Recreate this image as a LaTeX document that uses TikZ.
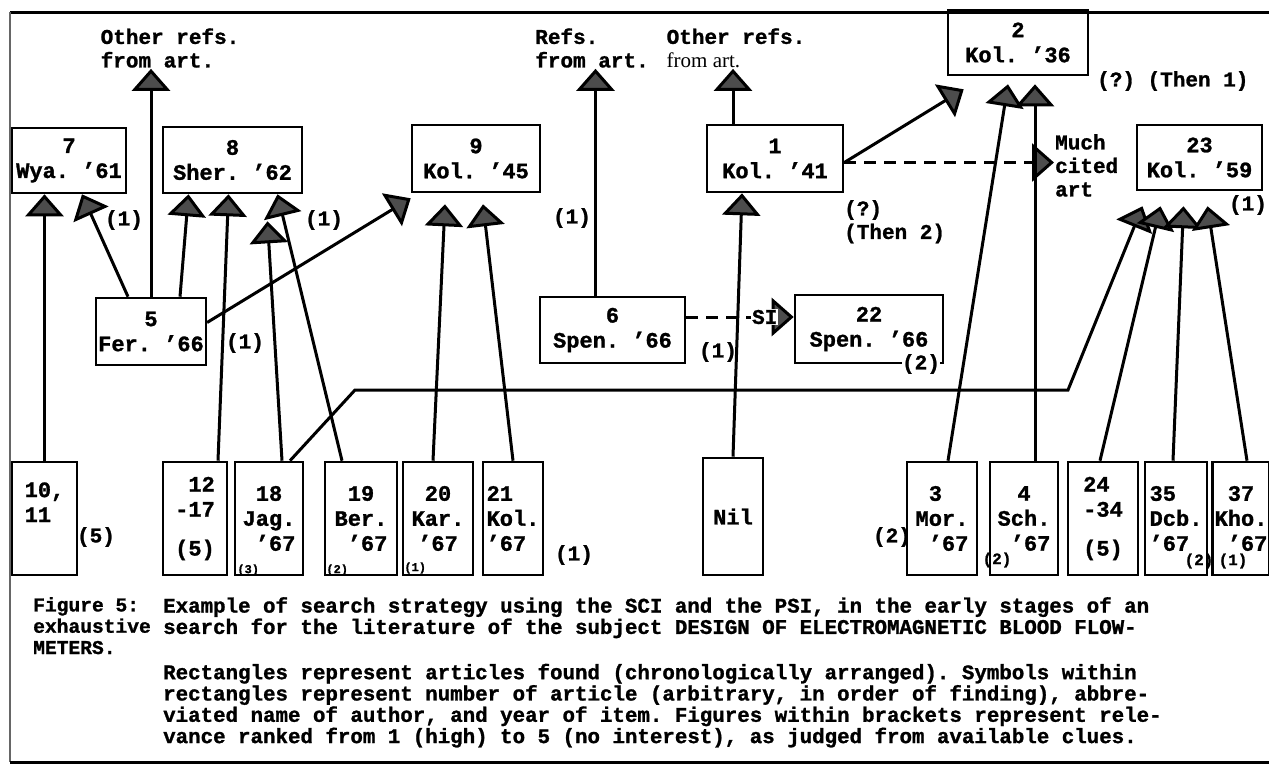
\documentclass[tikz,border=0pt]{standalone}
\usepackage{fontspec}
\newfontfamily\typer{Liberation Mono}[BoldFeatures={FakeBold=1.2}]
\newfontfamily\typeserif{Liberation Serif}
\usetikzlibrary{arrows.meta,positioning}
\tikzset{
  art/.style={draw, line width=2.6pt, align=center, inner sep=2pt,
    font=\typer\bfseries\frenchspacing\fontsize{22}{25}\selectfont},
  tallart/.style={art, minimum height=113pt},
  note/.style={font=\typer\bfseries\frenchspacing\fontsize{21}{23.5}\selectfont, inner sep=1pt},
  smallrank/.style={font=\typer\bfseries\fontsize{16}{16}\selectfont, inner sep=0.5pt},
  tinyrank/.style={font=\typer\bfseries\fontsize{12}{12}\selectfont, inner sep=0.5pt},
  cite/.style={line width=3pt, -{Triangle[length=22pt,width=38pt,fill=black!70]}},
  seealso/.style={cite, dash pattern=on 12pt off 8pt},
  caption/.style={font=\typer\bfseries\frenchspacing\fontsize{20.8}{21.3}\selectfont,
    align=left, inner sep=0pt},
}

\begin{document}
\begin{tikzpicture}[x=1pt, y=-1pt]
  \useasboundingbox (0,0) rectangle (1269,766);

  % Frame
  \draw[line width=3pt] (1280,12) -- (10,12);
  \draw[line width=2pt, black!60] (10,12) -- (10,762);
  \draw[line width=3pt] (10,762) -- (1280,762);

  % Cited articles
  \node[art, minimum width=114pt, minimum height=65pt] (b7) at (69,160.5) {7\\Wya. ’61};
  \node[art, minimum width=139pt, minimum height=66pt] (b8) at (232.5,160) {8\\Sher. ’62};
  \node[art, minimum width=128pt, minimum height=67pt] (b9) at (476,158.5) {9\\Kol. ’45};
  \node[art, minimum width=136pt, minimum height=67pt] (b1) at (775,158.5) {1\\Kol. ’41};
  \node[art, minimum width=140pt, minimum height=65pt] (b2) at (1018,42.5) {2\\Kol. ’36};
  \node[art, minimum width=125pt, minimum height=65pt] (b23) at (1199.5,157.5) {23\\Kol. ’59};

  % Middle row
  \node[art, minimum width=108pt, minimum height=67pt] (b5) at (151,331.5) {5\\Fer. ’66};
  \node[art, minimum width=145pt, minimum height=66pt] (b6) at (612.5,330) {6\\Spen. ’66};
  \node[art, minimum width=148pt, minimum height=68pt] (b22) at (869,329) {22\\Spen. ’66};

  % Citing articles
  \node[tallart, minimum width=65pt, align=left] (b10) at (44.5,518.5) {10,\\11\\\strut};
  \node[tallart, minimum width=64pt, align=right] (b12) at (195,518.5) {12\\-17\\[14pt](5)};
  \node[tallart, minimum width=68pt] (b18) at (269,518.5) {18\\Jag.\\\phantom{0}’67};
  \node[tallart, minimum width=72pt] (b19) at (361,518.5) {19\\Ber.\\\phantom{0}’67};
  \node[tallart, minimum width=70pt] (b20) at (438,518.5) {20\\Kar.\\’67};
  \node[tallart, minimum width=60pt, align=left] (b21) at (513,518.5) {21\\Kol.\\’67};
  \node[tallart, minimum width=60pt, minimum height=117pt] (bnil) at (733,516.5) {Nil};
  \node[tallart, minimum width=70pt, align=left] (b3) at (942,518.5) {\phantom{0}3\\Mor.\\\phantom{0}’67};
  \node[tallart, minimum width=68pt] (b4) at (1024,518.5) {4\\Sch.\\\phantom{0}’67};
  \node[tallart, minimum width=70pt, align=left] (b24) at (1103,518.5) {24\\-34\\[14pt](5)};
  \node[tallart, minimum width=62pt, align=left] (b35) at (1176,518.5) {35\\Dcb.\\’67};
  \node[tallart, minimum width=56pt] (b37) at (1241,518.5) {37\\Kho.\\\phantom{0}’67};

  % Notes
  \node[note, align=left] (oref1) at (170,48) {Other refs.\\from art.};
  \node[note, align=left] (rrefs) at (592,48) {Refs.\\from art.};
  \node[note, align=left] (oref2) at (736,48) {Other refs.\\{\typeserif\mdseries from art.}};
  \node[note, anchor=west] (q1) at (1096,81) {(?) (Then 1)};
  \node[note, align=left, anchor=north west] (much) at (1054,133) {Much\\cited\\art};
  \node[note, align=left, anchor=north west] (q2) at (843,199) {(?)\\(Then 2)};

  % Relevance
  \node[note] (r7) at (124,220) {(1)};
  \node[note] (r8) at (324,220) {(1)};
  \node[note] (r5) at (245,343) {(1)};
  \node[note] (r6) at (572,218) {(1)};
  \node[note] (rnil) at (718,352) {(1)};
  \node[note, fill=white, inner sep=0pt] (r22) at (921,364) {(2)};
  \node[note] (r23) at (1248,205) {(1)};
  \node[note] (r10) at (96,537) {(5)};
  \node[note] (r21) at (574,555) {(1)};
  \node[note] (r3) at (892,537) {(2)};
  \node[tinyrank, above right=0pt and 3pt of b18.south west] (r18) {(3)};
  \node[tinyrank, above right=0pt and 2pt of b19.south west] (r19) {(2)};
  \node[tinyrank, above right=2pt and 2pt of b20.south west] (r20) {(1)};
  \node[smallrank] (r4) at (997,560) {(2)};
  \node[smallrank] (r35) at (1199,561) {(2)};
  \node[smallrank] (r37) at (1233,561) {(1)};

  % Citations
  \coordinate (t6) at ([xshift=-17pt]b6.north);
  \coordinate (t1) at ([xshift=-42pt]b1.north);
  \coordinate (bend1) at (355,390);
  \coordinate (bend2) at (1068,390);

  \draw[cite] (b10.north) -- (b10.north |- b7.south);
  \draw[cite] ([xshift=-23pt]b5.north) -- ([xshift=13pt]b7.south);
  \draw[cite] (b5.north) -- (oref1.south -| b5.north);
  \draw[cite] ([xshift=29pt]b5.north) -- ([xshift=-44pt]b8.south);
  \draw[cite] ([xshift=23pt]b12.north) -- ([xshift=-4pt]b8.south);
  \draw[cite] ([xshift=-19pt]b19.north) -- ([xshift=45pt]b8.south);
  \draw[cite] ([xshift=13pt]b18.north) -- ([xshift=35pt,yshift=-27pt]b8.south);
  \draw[cite] ([yshift=9pt]b5.east) -- ([yshift=-5pt]b9.south west);
  \draw[cite] ([xshift=-5pt]b20.north) -- ([xshift=-31pt,yshift=-11pt]b9.south);
  \draw[cite] (b21.north) -- ([xshift=7pt,yshift=-11pt]b9.south);
  \draw[cite] (t6) -- (t6 |- rrefs.south);
  \draw[cite] (t1) -- (t1 |- oref2.south);
  \draw[cite] (bnil.north) -- ([xshift=-33pt]b1.south);
  \draw[cite] ([yshift=-4pt]b1.east) -- ([xshift=17pt,yshift=-13pt]b2.south west);
  \draw[seealso] ([yshift=-4pt]b1.east) -- ([yshift=-4pt]b1.east -| much.west);
  \draw[cite] ([xshift=6pt]b3.north) -- ([xshift=-10pt,yshift=-8pt]b2.south);
  \draw[cite] ([xshift=11pt]b4.north) -- ([xshift=17pt,yshift=-8pt]b2.south);
  \draw[seealso] ([yshift=13pt]b6.east) -- node[pos=0.73, note, fill=white] (si) {SI}
    ([yshift=13pt]b6.east -| b22.west);
  \draw[cite] ([xshift=21pt]b18.north) -- (bend1) -- (bend2)
    -- ([xshift=-57pt,yshift=-15pt]b23.south);
  \draw[cite] ([xshift=-3pt]b24.north) -- ([xshift=-39pt,yshift=-15pt]b23.south);
  \draw[cite] ([xshift=-3pt]b35.north) -- ([xshift=-16pt,yshift=-15pt]b23.south);
  \draw[cite] ([xshift=6pt]b37.north) -- ([xshift=8pt,yshift=-15pt]b23.south);

  % Caption
  \node[caption, anchor=north west, font=\typer\bfseries\fontsize{19.6}{21.3}\selectfont]
    (caphead) at (33,597) {Figure 5:\\exhaustive\\METERS.};
  \node[caption, anchor=north west] (captext) at (163,597) {%
    Example of search strategy using the SCI and the PSI, in the early stages of an\\
    search for the literature of the subject DESIGN OF ELECTROMAGNETIC BLOOD FLOW-\\[24pt]
    Rectangles represent articles found (chronologically arranged). Symbols within\\
    rectangles represent number of article (arbitrary, in order of finding), abbre-\\
    viated name of author, and year of item. Figures within brackets represent rele-\\
    vance ranked from 1 (high) to 5 (no interest), as judged from available clues.};
\end{tikzpicture}
\end{document}
